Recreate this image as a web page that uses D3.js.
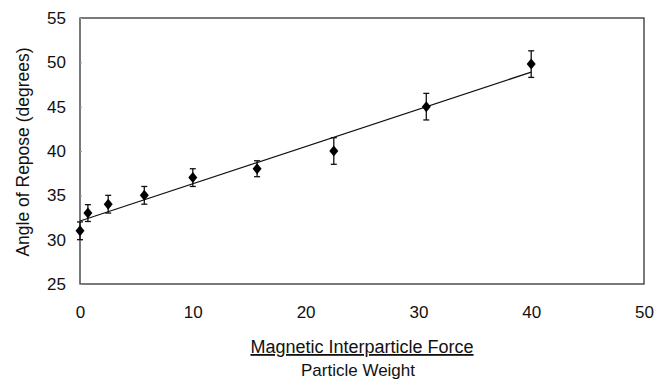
<!DOCTYPE html>
<html>
<head>
<meta charset="utf-8">
<script src="https://cdn.jsdelivr.net/npm/d3@7"></script>
<style>
  body { margin: 0; background: #fff; }
  text { font-family: "Liberation Sans", Arial, sans-serif; fill: #111; }
</style>
</head>
<body>
<div id="chart"></div>
<script>
// valori
const forceRatio = [0, 0.7, 2.5, 5.7, 10, 15.7, 22.5, 30.7, 40];
const reposeAngle = [31, 33, 34, 35, 37, 38, 40, 45, 49.8];
const errorBar = [1, 0.95, 1, 1, 1, 0.9, 1.5, 1.5, 1.5];
const fitLine = { intercept: 32.1, slope: 0.42, xEnd: 40 };
const xTicks = [0, 10, 20, 30, 40, 50];
const yTicks = [25, 30, 35, 40, 45, 50, 55];

const W = 667, H = 381;
const margin = { top: 18, left: 80, right: 23, bottom: 97 };
const iw = W - margin.left - margin.right;
const ih = H - margin.top - margin.bottom;

const svg = d3.select('#chart').append('svg')
  .attr('width', W)
  .attr('height', H);

const g = svg.append('g').attr('transform', `translate(${margin.left},${margin.top})`);

const x = d3.scaleLinear().domain([0, 50]).range([0, iw]);
const y = d3.scaleLinear().domain([25, 55]).range([ih, 0]);

// cornice
g.append('rect')
  .attr('width', iw)
  .attr('height', ih)
  .attr('fill', 'none')
  .attr('stroke', '#333')
  .attr('stroke-width', 1.3);

// assi
const yAxis = g.append('g')
  .call(d3.axisLeft(y).tickValues(yTicks).tickSize(-2).tickPadding(14));
yAxis.select('.domain').remove();
yAxis.selectAll('line').attr('stroke', '#999');
yAxis.selectAll('text').style('font-size', '17px').attr('fill', '#111');

const xAxis = g.append('g')
  .attr('transform', `translate(0,${ih})`)
  .call(d3.axisBottom(x).tickValues(xTicks).tickSize(0).tickPadding(22));
xAxis.select('.domain').remove();
xAxis.selectAll('text').style('font-size', '17px').attr('fill', '#111');

// retta di regressione
g.append('line')
  .attr('x1', x(0))
  .attr('y1', y(fitLine.intercept))
  .attr('x2', x(fitLine.xEnd))
  .attr('y2', y(fitLine.intercept + fitLine.slope * fitLine.xEnd))
  .attr('stroke', '#111')
  .attr('stroke-width', 1.2);

const pts = forceRatio.map((v, i) => ({ fx: v, a: reposeAngle[i], e: errorBar[i] }));

// barre d'errore
const err = g.selectAll('.err')
  .data(pts)
  .enter()
  .append('g')
  .attr('class', 'err')
  .attr('stroke', '#111')
  .attr('stroke-width', 1.3);

err.append('line')
  .attr('x1', d => x(d.fx)).attr('x2', d => x(d.fx))
  .attr('y1', d => y(d.a - d.e)).attr('y2', d => y(d.a + d.e));
err.append('line')
  .attr('x1', d => x(d.fx) - 3).attr('x2', d => x(d.fx) + 3)
  .attr('y1', d => y(d.a + d.e)).attr('y2', d => y(d.a + d.e));
err.append('line')
  .attr('x1', d => x(d.fx) - 3).attr('x2', d => x(d.fx) + 3)
  .attr('y1', d => y(d.a - d.e)).attr('y2', d => y(d.a - d.e));

// marcatori a rombo
g.selectAll('.pt')
  .data(pts)
  .enter()
  .append('path')
  .attr('class', 'pt')
  .attr('transform', d => `translate(${x(d.fx)},${y(d.a)})`)
  .attr('d', 'M0,-5.5L4.5,0L0,5.5L-4.5,0Z')
  .attr('fill', '#000');

// etichette
svg.append('text')
  .attr('transform', `translate(29,152) rotate(-90)`)
  .attr('text-anchor', 'middle')
  .style('font-size', '17.5px')
  .text('Angle of Repose (degrees)');

svg.append('text')
  .attr('x', 362)
  .attr('y', 353)
  .attr('text-anchor', 'middle')
  .style('font-size', '18px')
  .style('text-decoration', 'underline')
  .text('Magnetic Interparticle Force');

svg.append('text')
  .attr('x', 358)
  .attr('y', 376)
  .attr('text-anchor', 'middle')
  .style('font-size', '17px')
  .text('Particle Weight');
</script>
</body>
</html>
